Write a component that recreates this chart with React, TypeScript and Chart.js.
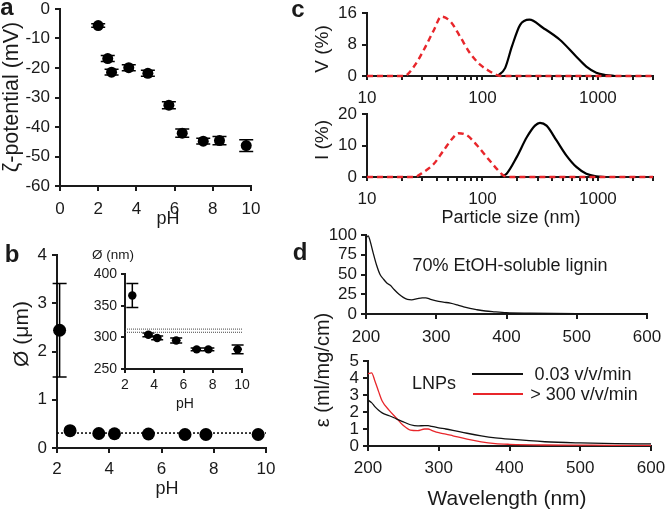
import React, { useEffect, useRef } from "react";
import { Chart, registerables } from "chart.js";
Chart.register(...registerables);

const W = 666;
const H = 509;
const FONT = '"Liberation Sans", Arial, Helvetica, sans-serif';
const INK = "#1a1a1a";
const RED = "#e8262b";

// ---------- Panel a: zeta potential vs pH ----------
const zetaPH = [2.0, 2.5, 2.7, 3.6, 4.6, 5.7, 6.4, 7.5, 8.35, 9.75];
const zetaMV = [-5.6, -16.8, -21.4, -19.9, -21.8, -32.6, -42.1, -44.8, -44.6, -46.3];
const zetaErr = [0.6, 1.0, 1.0, 1.0, 1.0, 1.2, 1.4, 1.0, 1.4, 2.0];

// ---------- Panel b: particle diameter vs pH ----------
const sizePH = [2.1, 2.5, 3.6, 4.2, 5.5, 6.9, 7.7, 9.7];
const sizeUm = [2.44, 0.36, 0.3, 0.295, 0.29, 0.28, 0.28, 0.28];
const sizeUmErr = [0.97, 0, 0, 0, 0, 0, 0, 0];
const sizeRefSpan = [2, 10];
const sizeRefUm = 0.31;

// inset (nm)
const insetPH = [2.5, 3.6, 4.2, 5.5, 6.9, 7.7, 9.7];
const insetNm = [366, 304, 299, 295, 281, 281, 281];
const insetErr = [19, 3, 3, 4, 2, 2, 7];
const insetPHErr = [0, 0.3, 0.3, 0.3, 0.3, 0.25, 0.3];
const insetRefNm = [308, 313];

// ---------- Panel c: size distributions ----------
const cSizeTicks = [10, 20, 30, 40, 50, 60, 70, 80, 90, 100, 200, 300, 400, 500, 600, 700, 800, 900, 1000, 2000, 3000];
const cSizeLabels = [10, 100, 1000];

const cVolBlackSize = [135, 157, 180, 212, 255, 336, 468, 651, 794, 968, 1180, 1400];
const cVolBlack = [0, 2, 7.5, 13, 14.3, 12.2, 9.2, 4.9, 2.4, 0.85, 0.25, 0];
const cVolRedSize = [10, 21, 25.5, 31, 38, 44, 53, 64, 78, 96, 117, 133, 150, 3000];
const cVolRed = [0, 0, 2.4, 6.6, 11.7, 15.1, 13.8, 10, 5.8, 2.8, 1.1, 0.25, 0, 0];

const cIntBlackSize = [142, 162, 198, 242, 285, 315, 359, 438, 534, 650, 794, 968, 1150];
const cIntBlack = [0, 1.05, 6.3, 12.6, 16.3, 17.2, 16.3, 11.6, 6.8, 3.2, 1.05, 0.2, 0];
const cIntRedSize = [10, 25.5, 31, 38, 46, 56, 62, 73.5, 90, 109, 133, 152, 170, 3000];
const cIntRed = [0, 0, 1.6, 4.2, 8.4, 12.6, 13.9, 13.2, 10, 6.3, 2.6, 0.5, 0, 0];

// ---------- Panel d: absorption spectra ----------
const ligninWl = [200, 203, 206, 210, 215, 220, 225, 230, 235, 240, 247, 253, 259, 265, 273, 280, 285, 292, 300, 310, 320, 330, 339, 348, 358, 370, 382, 400, 434, 500, 600];
const ligninEps = [96, 99, 92, 78, 62, 50, 44, 39, 36, 31, 25, 21, 18.5, 18, 19.5, 20.5, 20.5, 18.5, 16.5, 15, 13.8, 11.5, 9, 7, 5.4, 3.8, 2.8, 1.6, 1, 0.4, 0.2];

const lnpWl = [200, 205, 210, 215, 220, 230, 240, 250, 260, 270, 280, 285, 290, 300, 310, 320, 340, 360, 380, 400, 450, 500, 550, 600];
const lnpSlowEps = [2.7, 2.55, 2.3, 2.1, 1.95, 1.78, 1.6, 1.42, 1.25, 1.18, 1.2, 1.2, 1.15, 1.07, 1.0, 0.92, 0.75, 0.6, 0.48, 0.4, 0.25, 0.18, 0.14, 0.12];
const lnpFastEps = [4.25, 4.3, 3.8, 3.2, 2.65, 2.1, 1.65, 1.2, 0.93, 0.9, 1.0, 1.0, 0.92, 0.78, 0.7, 0.6, 0.4, 0.24, 0.14, 0.1, 0.06, 0.05, 0.04, 0.04];

type Area = { l: number; t: number; r: number; b: number };
const XH = 40;

function pts(xs: number[], ys: number[]) {
  return xs.map((x, i) => ({ x, y: ys[i] }));
}

function axis(o: {
  horizontal: boolean;
  area: Area;
  type?: string;
  min: number;
  max: number;
  step?: number;
  fontSize: number;
  pad: number;
  tickLen?: number;
  lineW?: number;
  ticks?: number[];
  labels?: number[];
}) {
  const size = o.horizontal ? XH : o.area.l;
  const lw = o.lineW ?? 2;
  const s: any = {
    type: o.type ?? "linear",
    position: o.horizontal ? "bottom" : "left",
    min: o.min,
    max: o.max,
    ticks: {
      font: { family: FONT, size: o.fontSize },
      color: INK,
      padding: o.pad,
      autoSkip: false,
      maxRotation: 0,
      minRotation: 0,
    },
    grid: {
      display: true,
      drawOnChartArea: false,
      drawTicks: true,
      tickLength: o.tickLen ?? 5,
      tickWidth: lw,
      tickColor: INK,
      color: INK,
      lineWidth: lw,
    },
    border: { display: true, color: INK, width: lw },
    afterFit: (sc: any) => {
      if (o.horizontal) sc.height = size;
      else sc.width = size;
      sc.paddingLeft = 0;
      sc.paddingRight = 0;
      sc.paddingTop = 0;
      sc.paddingBottom = 0;
    },
  };
  if (o.step) s.ticks.stepSize = o.step;
  if (o.ticks) {
    const tv = o.ticks;
    s.afterBuildTicks = (sc: any) => {
      sc.ticks = tv.map((v) => ({ value: v }));
    };
  }
  if (o.labels) {
    const lv = o.labels;
    s.ticks.callback = (v: number) => (lv.includes(v) ? String(v) : "");
  }
  return s;
}

const errorBars = {
  id: "errorBars",
  beforeDatasetsDraw(chart: any) {
    const ctx = chart.ctx;
    const xs = chart.scales.x;
    const ys = chart.scales.y;
    chart.data.datasets.forEach((ds: any) => {
      if (!ds.yErr && !ds.xErr) return;
      ctx.save();
      ctx.strokeStyle = "#000";
      ctx.lineWidth = ds.errWidth ?? 1.5;
      const cap = ds.capHalf ?? 6;
      ds.data.forEach((p: any, j: number) => {
        const px = xs.getPixelForValue(p.x);
        const py = ys.getPixelForValue(p.y);
        ctx.beginPath();
        const ey = ds.yErr ? ds.yErr[j] : 0;
        if (ey) {
          const y1 = ys.getPixelForValue(p.y - ey);
          const y2 = ys.getPixelForValue(p.y + ey);
          ctx.moveTo(px, y1);
          ctx.lineTo(px, y2);
          ctx.moveTo(px - cap, y1);
          ctx.lineTo(px + cap, y1);
          ctx.moveTo(px - cap, y2);
          ctx.lineTo(px + cap, y2);
        }
        const ex = ds.xErr ? ds.xErr[j] : 0;
        if (ex) {
          const x1 = xs.getPixelForValue(p.x - ex);
          const x2 = xs.getPixelForValue(p.x + ex);
          ctx.moveTo(x1, py);
          ctx.lineTo(x2, py);
        }
        ctx.stroke();
      });
      ctx.restore();
    });
  },
};

function makeConfig(area: Area, xs: any, ys: any, datasets: any[]) {
  return {
    type: "scatter",
    data: { datasets },
    plugins: [errorBars],
    options: {
      responsive: false,
      animation: false,
      devicePixelRatio: 1,
      events: [],
      layout: {
        padding: { left: 0, top: area.t, right: W - area.r, bottom: H - area.b - XH },
      },
      plugins: { legend: { display: false }, tooltip: { enabled: false } },
      scales: { x: xs, y: ys },
    },
  };
}

const markers = (data: any[], r: number, extra: any = {}) => ({
  data,
  showLine: false,
  pointRadius: r,
  pointBackgroundColor: "#000",
  pointBorderColor: "#000",
  pointBorderWidth: 0,
  clip: false,
  ...extra,
});

const curve = (data: any[], color: string, width: number, extra: any = {}) => ({
  data,
  showLine: true,
  borderColor: color,
  borderWidth: width,
  pointRadius: 0,
  cubicInterpolationMode: "monotone",
  clip: false,
  ...extra,
});

// ---- areas ----
const areaA: Area = { l: 60, t: 9, r: 251, b: 186 };
const areaB: Area = { l: 57, t: 255, r: 266, b: 448 };
const areaIn: Area = { l: 125, t: 274, r: 242, b: 369 };
const areaC1: Area = { l: 367, t: 13, r: 653, b: 76 };
const areaC2: Area = { l: 367, t: 114, r: 653, b: 177 };
const areaD1: Area = { l: 366, t: 235, r: 647, b: 314 };
const areaD2: Area = { l: 368, t: 361, r: 651, b: 446 };

const TF = 17;

const configs: (() => any)[] = [
  // a
  () =>
    makeConfig(
      areaA,
      axis({ horizontal: true, area: areaA, min: 0, max: 10, step: 2, fontSize: TF, pad: 8 }),
      axis({ horizontal: false, area: areaA, min: -60, max: 0, step: 10, fontSize: TF, pad: 5 }),
      [markers(pts(zetaPH, zetaMV), 5.5, { yErr: zetaErr, capHalf: 7 })]
    ),
  // b
  () =>
    makeConfig(
      areaB,
      axis({ horizontal: true, area: areaB, min: 2, max: 10, step: 2, fontSize: TF, pad: 6 }),
      axis({ horizontal: false, area: areaB, min: 0, max: 4, step: 1, fontSize: TF, pad: 5 }),
      [
        markers(pts(sizePH, sizeUm), 6.5, { yErr: sizeUmErr, capHalf: 7 }),
        curve(pts(sizeRefSpan, [sizeRefUm, sizeRefUm]), "#000", 1.5, { borderDash: [2, 2], cubicInterpolationMode: "default" }),
      ]
    ),
  // inset
  () =>
    makeConfig(
      areaIn,
      axis({ horizontal: true, area: areaIn, min: 2, max: 10, step: 2, fontSize: 14, pad: 4, tickLen: 4 }),
      axis({ horizontal: false, area: areaIn, min: 250, max: 400, step: 50, fontSize: 14, pad: 4, tickLen: 4 }),
      [
        markers(pts(insetPH, insetNm), 4.2, { yErr: insetErr, xErr: insetPHErr, capHalf: 6 }),
        curve(pts(sizeRefSpan, [insetRefNm[0], insetRefNm[0]]), "#444", 1, { borderDash: [1, 1], cubicInterpolationMode: "default" }),
        curve(pts(sizeRefSpan, [insetRefNm[1], insetRefNm[1]]), "#444", 1, { borderDash: [1, 1], cubicInterpolationMode: "default" }),
      ]
    ),
  // c top (first dataset is drawn on top)
  () =>
    makeConfig(
      areaC1,
      axis({ horizontal: true, area: areaC1, type: "logarithmic", min: 10, max: 3000, fontSize: TF, pad: 8, tickLen: 4, ticks: cSizeTicks, labels: cSizeLabels }),
      axis({ horizontal: false, area: areaC1, min: 0, max: 16, step: 8, fontSize: TF, pad: 5 }),
      [
        curve(pts(cVolRedSize, cVolRed), RED, 2.4, { borderDash: [6, 4] }),
        curve(pts(cVolBlackSize, cVolBlack), "#000", 2.2),
      ]
    ),
  // c bottom
  () =>
    makeConfig(
      areaC2,
      axis({ horizontal: true, area: areaC2, type: "logarithmic", min: 10, max: 3000, fontSize: TF, pad: 8, tickLen: 4, ticks: cSizeTicks, labels: cSizeLabels }),
      axis({ horizontal: false, area: areaC2, min: 0, max: 20, step: 10, fontSize: TF, pad: 5 }),
      [
        curve(pts(cIntRedSize, cIntRed), RED, 2.4, { borderDash: [6, 4] }),
        curve(pts(cIntBlackSize, cIntBlack), "#000", 2.2),
      ]
    ),
  // d top
  () =>
    makeConfig(
      areaD1,
      axis({ horizontal: true, area: areaD1, min: 200, max: 600, step: 100, fontSize: TF, pad: 8 }),
      axis({ horizontal: false, area: areaD1, min: 0, max: 100, step: 25, fontSize: TF, pad: 4 }),
      [curve(pts(ligninWl, ligninEps), "#111", 1.3)]
    ),
  // d bottom
  () =>
    makeConfig(
      areaD2,
      axis({ horizontal: true, area: areaD2, min: 200, max: 600, step: 100, fontSize: TF, pad: 7 }),
      axis({ horizontal: false, area: areaD2, min: 0, max: 5, step: 1, fontSize: TF, pad: 4 }),
      [
        curve(pts(lnpWl, lnpSlowEps), "#111", 1.3),
        curve(pts(lnpWl, lnpFastEps), RED, 1.3),
      ]
    ),
];

function ChartLayer({ make }: { make: () => any }) {
  const ref = useRef<HTMLCanvasElement>(null);
  useEffect(() => {
    const c = new Chart(ref.current as HTMLCanvasElement, make());
    return () => c.destroy();
  }, []);
  return (
    <canvas
      ref={ref}
      width={W}
      height={H}
      style={{ position: "absolute", left: 0, top: 0, width: W, height: H }}
    />
  );
}

function Label(p: { x: number; y: number; text: string; size?: number; rotate?: boolean; bold?: boolean }) {
  return (
    <div
      style={{
        position: "absolute",
        left: p.x,
        top: p.y,
        transform: `translate(-50%, -50%)${p.rotate ? " rotate(-90deg)" : ""}`,
        fontFamily: FONT,
        fontSize: p.size ?? 18,
        fontWeight: p.bold ? "bold" : "normal",
        whiteSpace: "nowrap",
        lineHeight: 1,
        color: INK,
      }}
    >
      {p.text}
    </div>
  );
}

function LegendLine(p: { x: number; y: number; w: number; color: string }) {
  return (
    <div
      style={{
        position: "absolute",
        left: p.x,
        top: p.y - 0.75,
        width: p.w,
        height: 1.5,
        background: p.color,
      }}
    />
  );
}

export default function App() {
  return (
    <div
      style={{
        position: "fixed",
        left: 0,
        top: 0,
        width: W,
        height: H,
        background: "#fff",
        overflow: "hidden",
      }}
    >
      {configs.map((m, i) => (
        <ChartLayer key={i} make={m} />
      ))}
      <Label x={7} y={7} text="a" size={24} bold />
      <Label x={12} y={254} text="b" size={24} bold />
      <Label x={298} y={9} text="c" size={24} bold />
      <Label x={300} y={252} text="d" size={24} bold />

      <Label x={12} y={97} text="ζ-potential (mV)" size={21.5} rotate />
      <Label x={168} y={218} text="pH" />
      <Label x={20} y={334} text="Ø (μm)" size={21} rotate />
      <Label x={167} y={488} text="pH" />
      <Label x={113} y={255} text="Ø (nm)" size={13.5} />
      <Label x={185} y={403} text="pH" size={14} />

      <Label x={321} y={49} text="V (%)" size={19} rotate />
      <Label x={321} y={140} text="I (%)" size={19} rotate />
      <Label x={511} y={217} text="Particle size (nm)" />

      <Label x={510} y={265} text="70% EtOH-soluble lignin" />
      <Label x={434} y={383} text="LNPs" />
      <LegendLine x={472} y={374} w={51} color="#111" />
      <LegendLine x={473} y={394} w={50} color={RED} />
      <Label x={583} y={374} text="0.03 v/v/min" />
      <Label x={584} y={394} text="> 300 v/v/min" />
      <Label x={507} y={497} text="Wavelength (nm)" size={21} />
      <Label x={322} y={370} text="ε (ml/mg/cm)" size={20} rotate />
    </div>
  );
}
